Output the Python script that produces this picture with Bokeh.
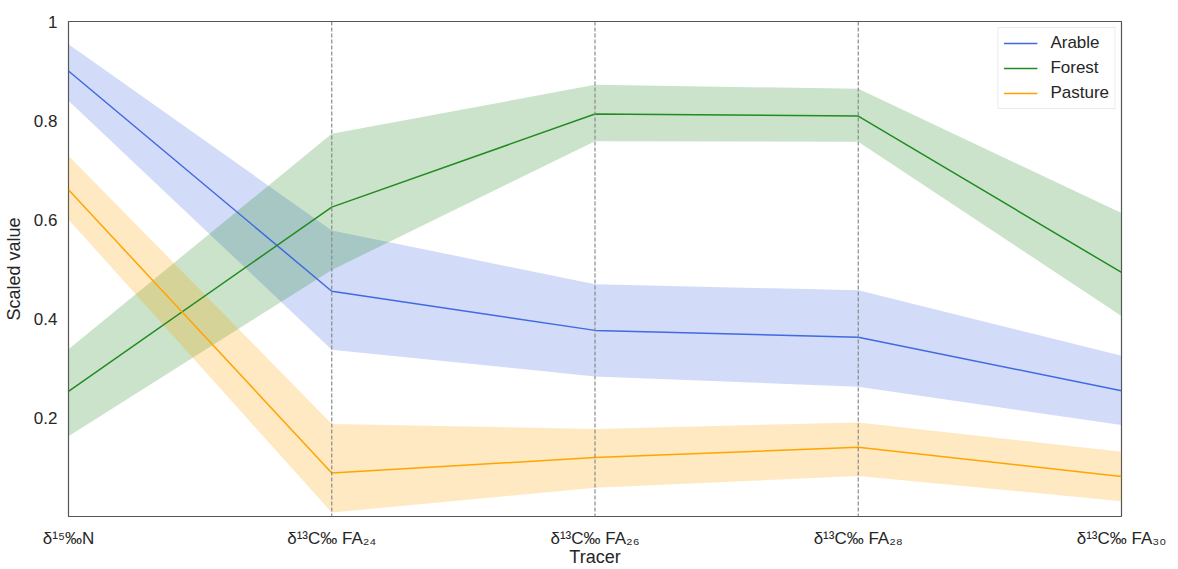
from bokeh.plotting import figure
from bokeh.models import (Range1d, FixedTicker, CustomJSTickFormatter, Span,
                          Legend, LegendItem)
from bokeh.embed import file_html
from bokeh.resources import INLINE

# Tracers along the x axis
tracers = ["δ¹⁵‰N", "δ¹³C‰ FA₂₄", "δ¹³C‰ FA₂₆", "δ¹³C‰ FA₂₈", "δ¹³C‰ FA₃₀"]
x = [0, 1, 2, 3, 4]

# Mean scaled value and confidence band per land use
arable_mean = [0.900, 0.455, 0.376, 0.362, 0.254]
arable_lo = [0.840, 0.337, 0.283, 0.262, 0.185]
arable_hi = [0.954, 0.578, 0.469, 0.457, 0.325]

forest_mean = [0.253, 0.625, 0.813, 0.809, 0.493]
forest_lo = [0.162, 0.498, 0.758, 0.757, 0.405]
forest_hi = [0.338, 0.773, 0.872, 0.864, 0.613]

pasture_mean = [0.660, 0.088, 0.119, 0.140, 0.081]
pasture_lo = [0.600, 0.008, 0.058, 0.082, 0.031]
pasture_hi = [0.729, 0.187, 0.177, 0.190, 0.131]

y_ticks = [0.2, 0.4, 0.6, 0.8, 1.0]

FONT = "Liberation Sans"
TEXT = "#262626"

p = figure(width=1178, height=569, output_backend="svg", toolbar_location=None,
           x_range=Range1d(0, 4), y_range=Range1d(0, 1))
p.min_border_left = 68
p.min_border_right = 57
p.min_border_top = 21
p.min_border_bottom = 51

p.grid.visible = False
p.outline_line_color = "#555555"
p.outline_line_width = 1.2
p.background_fill_color = "white"
p.border_fill_color = "white"

series = [
    ("Arable", arable_mean, arable_lo, arable_hi, "royalblue"),
    ("Forest", forest_mean, forest_lo, forest_hi, "forestgreen"),
    ("Pasture", pasture_mean, pasture_lo, pasture_hi, "orange"),
]

# Vertical guides at the interior tracers
for xv in x[1:-1]:
    p.add_layout(Span(location=xv, dimension="height", line_color="#8a8a8a",
                      line_width=1.2, line_dash="4 2"))

items = []
for name, mean, lo, hi, color in series:
    p.varea(x=x, y1=lo, y2=hi, fill_color=color, fill_alpha=0.24)
for name, mean, lo, hi, color in series:
    r = p.line(x, mean, line_color=color, line_width=1.5)
    items.append(LegendItem(label=name, renderers=[r]))

legend = Legend(items=items, location="top_right")
legend.label_text_font = FONT
legend.label_text_font_size = "17px"
legend.label_text_color = TEXT
legend.glyph_width = 34
legend.glyph_height = 18
legend.label_height = 18
legend.label_standoff = 13
legend.spacing = 5
legend.padding = 5
legend.margin = 6
legend.border_line_color = "#d8d8d8"
legend.border_line_width = 1
legend.background_fill_color = "white"
legend.background_fill_alpha = 0.9
p.add_layout(legend)

# Axes
p.xaxis.ticker = FixedTicker(ticks=x)
p.xaxis.formatter = CustomJSTickFormatter(
    args=dict(labels=tracers),
    code="const i = Math.round(tick); return labels[i] !== undefined ? labels[i] : '';")
p.yaxis.ticker = FixedTicker(ticks=y_ticks)
p.yaxis.formatter = CustomJSTickFormatter(
    code="return Math.abs(tick - 1) < 1e-9 ? '1' : tick.toFixed(1);")

for ax in (p.xaxis, p.yaxis):
    ax.axis_line_color = None
    ax.major_tick_line_color = None
    ax.minor_tick_line_color = None
    ax.major_label_text_font = FONT
    ax.major_label_text_font_size = "17px"
    ax.major_label_text_color = TEXT
    ax.axis_label_text_font = FONT
    ax.axis_label_text_font_size = "18px"
    ax.axis_label_text_font_style = "normal"
    ax.axis_label_text_color = TEXT

p.xaxis.axis_label = "Tracer"
p.yaxis.axis_label = "Scaled value"
p.xaxis.major_label_standoff = 6
p.xaxis.axis_label_standoff = -4
p.yaxis.major_label_standoff = 5
p.yaxis.axis_label_standoff = 7

open("out.html", "w").write(file_html(p, INLINE))
